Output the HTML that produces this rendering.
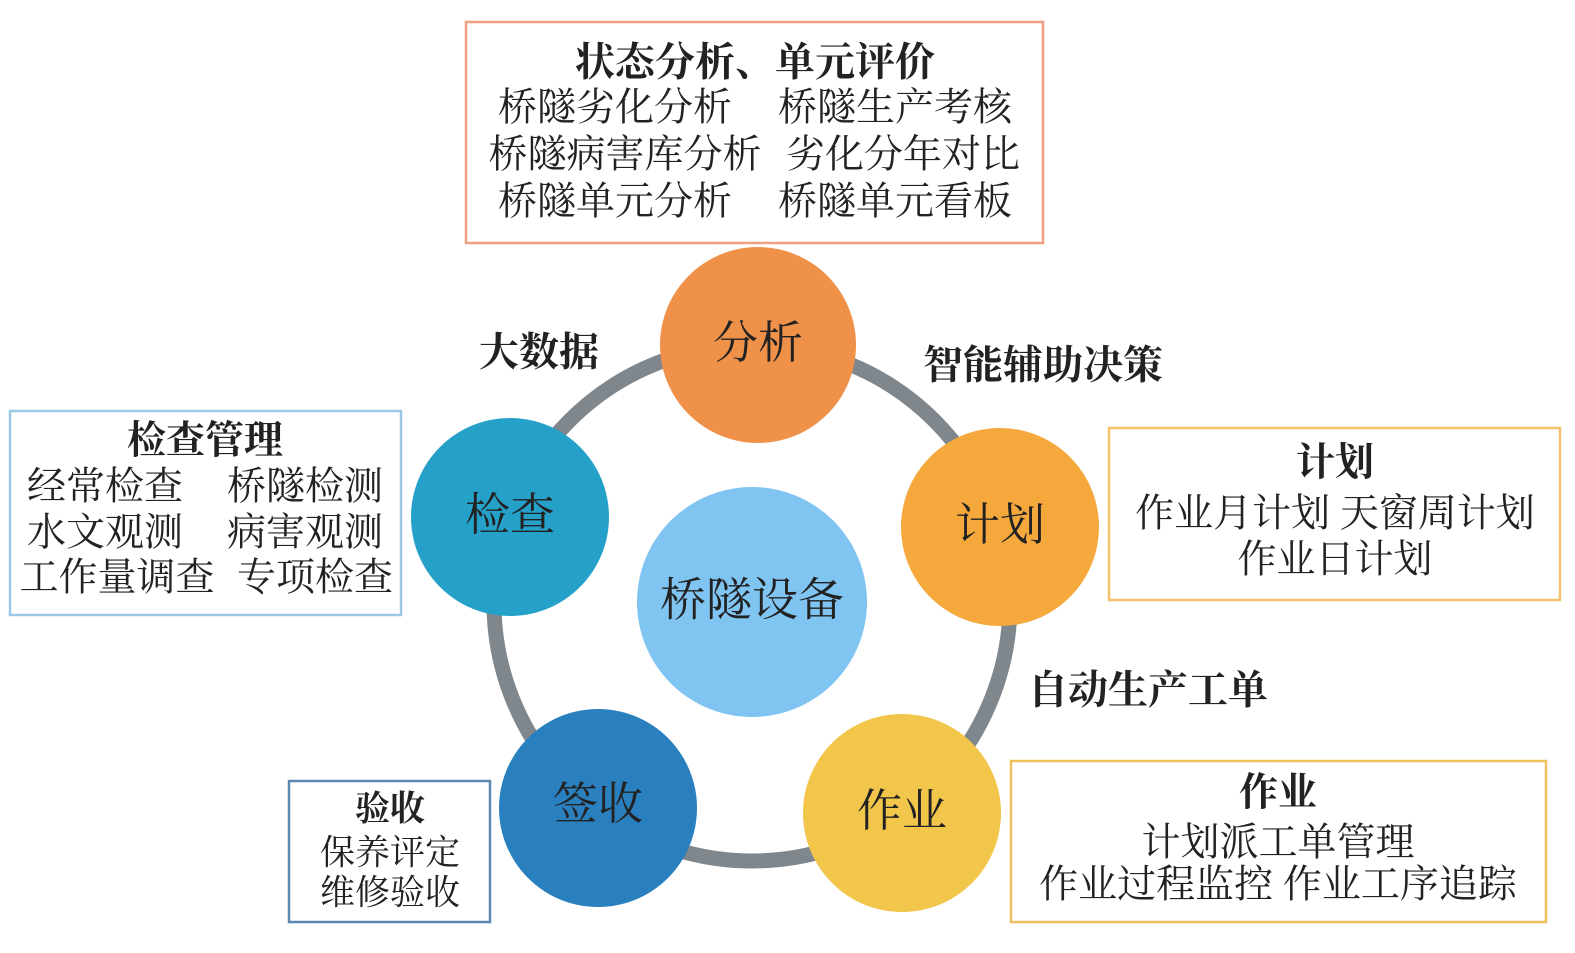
<!DOCTYPE html>
<html><head><meta charset="utf-8"><style>
html,body{margin:0;padding:0;background:#fff;}
svg{display:block}
text{font-family:"Liberation Serif","Noto Serif CJK SC",serif;fill:#222;text-anchor:middle;dominant-baseline:central}
.b{font-weight:bold}
</style></head><body>
<svg width="1575" height="953" viewBox="0 0 1575 953">
<circle cx="752" cy="603" r="258" fill="none" stroke="#7f868c" stroke-width="15"/>
<circle cx="758" cy="345" r="98" fill="#f0914a"/>
<circle cx="1000" cy="527" r="99" fill="#f5a93c"/>
<circle cx="902" cy="813" r="99" fill="#f2c64b"/>
<circle cx="598" cy="808" r="99" fill="#2a7fbf"/>
<circle cx="510" cy="517" r="99" fill="#25a0c8"/>
<circle cx="752" cy="602" r="115" fill="#80c4f2"/>
<g font-size="45">
<text x="758" y="343">分析</text>
<text x="1000" y="525">计划</text>
<text x="902" y="811">作业</text>
<text x="598" y="804">签收</text>
<text x="510" y="515">检查</text>
<text x="752" y="600" font-size="46">桥隧设备</text>
</g>
<g font-size="40">
<text class="b" x="539" y="352">大数据</text>
<text class="b" x="1043" y="365">智能辅助决策</text>
<text class="b" x="1148" y="690">自动生产工单</text>
</g>
<rect x="466" y="22" width="577" height="221" fill="none" stroke="#f0a080" stroke-width="2.5"/>
<g font-size="39">
<text class="b" x="755" y="62" font-size="40">状态分析、单元评价</text>
<text x="615" y="108">桥隧劣化分析</text><text x="895" y="108">桥隧生产考核</text>
<text x="625" y="155">桥隧病害库分析</text><text x="903" y="155">劣化分年对比</text>
<text x="615" y="202">桥隧单元分析</text><text x="895" y="202">桥隧单元看板</text>
</g>
<rect x="10" y="411" width="391" height="204" fill="none" stroke="#9cc8e8" stroke-width="2.5"/>
<g font-size="39">
<text class="b" x="205" y="441">检查管理</text>
<text x="105" y="487">经常检查</text><text x="305" y="487">桥隧检测</text>
<text x="105" y="533">水文观测</text><text x="305" y="533">病害观测</text>
<text x="117" y="578">工作量调查</text><text x="315" y="578">专项检查</text>
</g>
<rect x="1109" y="428" width="451" height="172" fill="none" stroke="#f5c26b" stroke-width="2.5"/>
<g font-size="39">
<text class="b" x="1335" y="463">计划</text>
<text x="1335" y="514">作业月计划  天窗周计划</text>
<text x="1335" y="560">作业日计划</text>
</g>
<rect x="1011" y="761" width="535" height="161" fill="none" stroke="#f0c060" stroke-width="2.5"/>
<g font-size="39">
<text class="b" x="1278" y="793">作业</text>
<text x="1278" y="843">计划派工单管理</text>
<text x="1278" y="885">作业过程监控  作业工序追踪</text>
</g>
<rect x="289" y="781" width="201" height="141" fill="none" stroke="#5a88b0" stroke-width="2.5"/>
<g font-size="35">
<text class="b" x="390" y="809">验收</text>
<text x="390" y="853">保养评定</text>
<text x="390" y="893">维修验收</text>
</g>
</svg>
</body></html>
